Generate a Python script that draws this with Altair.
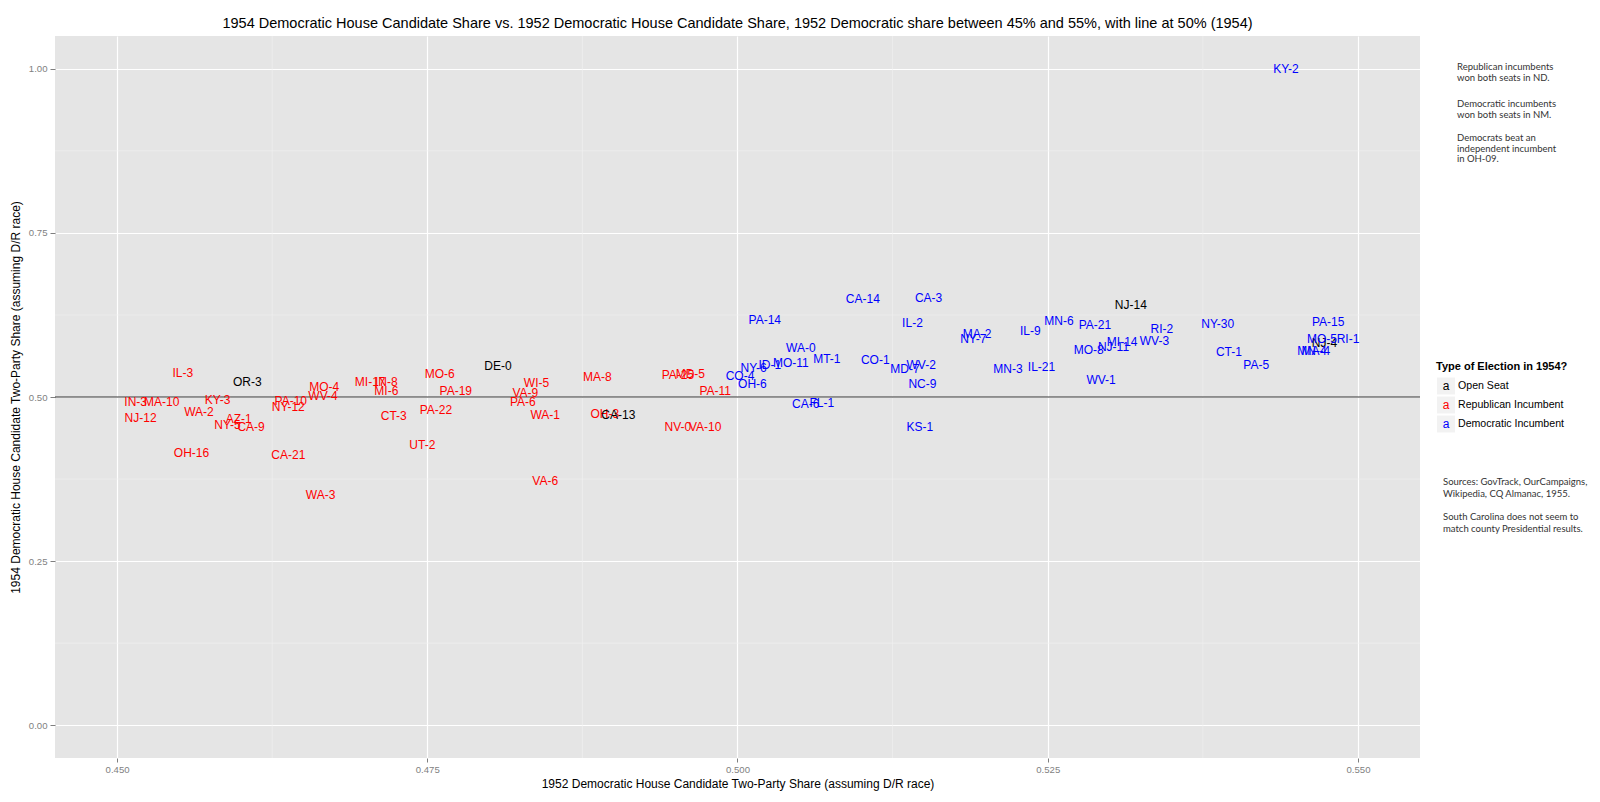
import altair as alt
import pandas as pd

# ---------------- data ----------------
labels = [
    # Republican incumbents
    "IL-3", "MO-4", "WV-4", "MI-17", "IN-8", "MI-6", "IN-3", "MA-10", "KY-3", "PA-10",
    "NY-12", "WA-2", "NJ-12", "AZ-1", "NY-5", "CA-9", "CT-3", "OH-16", "CA-21", "WA-3",
    "MO-6", "PA-19", "WI-5", "VA-9", "PA-6", "MA-8", "PA-25", "MD-5", "PA-11", "PA-22",
    "WA-1", "OH-3", "UT-2", "VA-6", "NV-0", "VA-10",
    # Open seats
    "OR-3", "DE-0", "CA-13", "NJ-14", "NJ-4",
    # Democratic incumbents
    "CA-14", "CA-3", "PA-14", "IL-2", "MA-2", "NY-7", "WA-0", "MT-1", "CO-1", "NY-6",
    "ID-1", "MO-11", "CO-4", "OH-6", "MD-7", "WV-2", "NC-9", "MN-3", "CA-6", "FL-1",
    "KS-1", "MN-6", "IL-9", "PA-21", "RI-2", "WV-3", "MI-14", "NJ-11", "MO-8", "NY-30",
    "CT-1", "PA-5", "IL-21", "WV-1", "PA-15", "MO-5", "RI-1", "MN-4", "MA-4", "KY-2",
]
share_1952 = [
    0.4553, 0.4667, 0.4666, 0.4704, 0.4717, 0.4717, 0.4515, 0.4536, 0.4581, 0.4640,
    0.4638, 0.4566, 0.4519, 0.4598, 0.4589, 0.4608, 0.4723, 0.4560, 0.4638, 0.4664,
    0.4760, 0.4773, 0.4838, 0.4829, 0.4827, 0.4887, 0.4952, 0.4962, 0.4982, 0.4757,
    0.4845, 0.4893, 0.4746, 0.4845, 0.4952, 0.4974,
    0.4605, 0.4807, 0.4904, 0.5317, 0.5473,
    0.5101, 0.5154, 0.5022, 0.5141, 0.5193, 0.5190, 0.5051, 0.5072, 0.5111, 0.5013,
    0.5026, 0.5043, 0.5002, 0.5012, 0.5135, 0.5148, 0.5149, 0.5218, 0.5055, 0.5068,
    0.5147, 0.5259, 0.5236, 0.5288, 0.5342, 0.5336, 0.5310, 0.5303, 0.5283, 0.5387,
    0.5396, 0.5418, 0.5245, 0.5293, 0.5476, 0.5471, 0.5492, 0.5463, 0.5466, 0.5442,
]
share_1954 = [
    0.5361, 0.5152, 0.5015, 0.5224, 0.5224, 0.5096, 0.4924, 0.4924, 0.4954, 0.4939,
    0.4852, 0.4776, 0.4675, 0.4665, 0.4569, 0.4538, 0.4710, 0.4151, 0.4111, 0.3506,
    0.5346, 0.5091, 0.5209, 0.5066, 0.4924, 0.5300, 0.5335, 0.5355, 0.5091, 0.4802,
    0.4721, 0.4741, 0.4264, 0.3724, 0.4538, 0.4538,
    0.5233, 0.5477, 0.4730, 0.6398, 0.5819,
    0.6498, 0.6509, 0.6174, 0.6133, 0.5956, 0.5880, 0.5742, 0.5579, 0.5559, 0.5438,
    0.5483, 0.5514, 0.5325, 0.5198, 0.5431, 0.5483, 0.5203, 0.5422, 0.4889, 0.4909,
    0.4547, 0.6163, 0.6011, 0.6098, 0.6032, 0.5858, 0.5834, 0.5767, 0.5716, 0.6108,
    0.5681, 0.5488, 0.5453, 0.5259, 0.6148, 0.5880, 0.5880, 0.5701, 0.5701, 1.0000,
]
election_type = (["Republican Incumbent"] * 36 + ["Open Seat"] * 5
                 + ["Democratic Incumbent"] * 40)

categories = ["Open Seat", "Republican Incumbent", "Democratic Incumbent"]
cat_colors = ["#000000", "#FF0000", "#0000FF"]

x_ticks = [0.45, 0.475, 0.5, 0.525, 0.55]
x_minor = [0.4625, 0.4875, 0.5125, 0.5375]
y_ticks = [0.0, 0.25, 0.5, 0.75, 1.0]
y_minor = [0.125, 0.375, 0.625, 0.875]
ref_line = [0.5]

notes = [
    ["Republican incumbents", "won both seats in ND."],
    ["Democratic incumbents", "won both seats in NM."],
    ["Democrats beat an", "independent incumbent", "in OH-09."],
]
sources = [
    ["Sources: GovTrack, OurCampaigns,", "Wikipedia, CQ Almanac, 1955."],
    ["South Carolina does not seem to", "match county Presidential results."],
]

title_text = ("1954 Democratic House Candidate Share vs. 1952 Democratic House Candidate Share, "
              "1952 Democratic share between 45% and 55%, with line at 50% (1954)")
x_title = "1952 Democratic House Candidate Two-Party Share (assuming D/R race)"
y_title = "1954 Democratic House Candidate Two-Party Share (assuming D/R race)"
legend_title = "Type of Election in 1954?"

# ---------------- chart ----------------
FONT = "Liberation Sans"
df = pd.DataFrame({"label": labels, "x": share_1952, "y": share_1954, "type": election_type})

xscale = alt.Scale(domain=[0.445, 0.555], nice=False, zero=False)
yscale = alt.Scale(domain=[-0.05, 1.05], nice=False, zero=False)

xaxis = alt.Axis(values=x_ticks, format=".3f", title=x_title, grid=True, gridColor="white",
                 gridWidth=1.2, domain=False, tickColor="#7f7f7f", tickSize=4,
                 labelColor="#7f7f7f", labelFontSize=9.6, labelFont=FONT, labelPadding=2,
                 titleFont=FONT, titleFontSize=12, titleFontWeight="normal",
                 titleColor="black", titlePadding=5, labelFlush=False)
yaxis = alt.Axis(values=y_ticks, format=".2f", title=y_title, grid=True, gridColor="white",
                 gridWidth=1.2, domain=False, tickColor="#7f7f7f", tickSize=5,
                 labelColor="#7f7f7f", labelFontSize=9.6, labelFont=FONT, labelPadding=3,
                 titleFont=FONT, titleFontSize=12, titleFontWeight="normal",
                 titleColor="black", titlePadding=6, labelFlush=False)

minor_x = alt.Chart(pd.DataFrame({"v": x_minor})).mark_rule(
    color="#F2F2F2", strokeWidth=0.6).encode(x=alt.X("v:Q", scale=xscale, axis=xaxis))
minor_y = alt.Chart(pd.DataFrame({"v": y_minor})).mark_rule(
    color="#F2F2F2", strokeWidth=0.6).encode(y=alt.Y("v:Q", scale=yscale, axis=yaxis))
hline = alt.Chart(pd.DataFrame({"v": ref_line})).mark_rule(
    color="#333333", strokeWidth=1).encode(y=alt.Y("v:Q", scale=yscale, axis=yaxis))

points = alt.Chart(df).mark_text(font=FONT, fontSize=12, align="center",
                                 baseline="middle").encode(
    x=alt.X("x:Q", scale=xscale, axis=xaxis),
    y=alt.Y("y:Q", scale=yscale, axis=yaxis),
    text="label:N",
    color=alt.Color("type:N", scale=alt.Scale(domain=categories, range=cat_colors),
                    legend=None),
)

layers = [minor_x, minor_y, hline, points]

# notes on the right
note_y = [31, 68, 102]
for block, ny in zip(notes, note_y):
    layers.append(alt.Chart().mark_text(text=block, font="Lato", fontSize=9.5, lineHeight=10.5,
                                        align="left", baseline="middle", color="#333333")
                  .encode(x=alt.value(1402), y=alt.value(ny)))
source_y = [446, 481]
for block, sy in zip(sources, source_y):
    layers.append(alt.Chart().mark_text(text=block, font="Lato", fontSize=9.5, lineHeight=12,
                                        align="left", baseline="middle", color="#333333")
                  .encode(x=alt.value(1388), y=alt.value(sy)))

# manual legend (text keys like ggplot)
layers.append(alt.Chart().mark_text(text=legend_title, font=FONT, fontSize=11, fontWeight="bold",
                                    align="left", baseline="middle", color="black")
              .encode(x=alt.value(1381), y=alt.value(331)))
for i, (cat, col) in enumerate(zip(categories, cat_colors)):
    cy = 350 + 19 * i
    layers.append(alt.Chart().mark_rect(color="#F2F2F2").encode(
        x=alt.value(1382), x2=alt.value(1400), y=alt.value(cy - 8.5), y2=alt.value(cy + 8.5)))
    layers.append(alt.Chart().mark_text(text="a", font=FONT, fontSize=12, align="center",
                                        baseline="middle", color=col)
                  .encode(x=alt.value(1391), y=alt.value(cy)))
    layers.append(alt.Chart().mark_text(text=cat, font=FONT, fontSize=10.6, align="left",
                                        baseline="middle", color="black")
                  .encode(x=alt.value(1403), y=alt.value(cy)))

chart = alt.layer(*layers).properties(
    width=1365, height=722,
    background="white",
    title=alt.TitleParams(text=title_text, font=FONT, fontSize=14.5, fontWeight="normal",
                          color="black", anchor="middle", offset=4),
    autosize=alt.AutoSizeParams(type="none"),
    padding={"left": 47, "top": 28, "right": 172, "bottom": 36},
).configure_view(fill="#E5E5E5", stroke=None)

chart.save("out.html", embed_options={"renderer": "svg", "actions": False})
